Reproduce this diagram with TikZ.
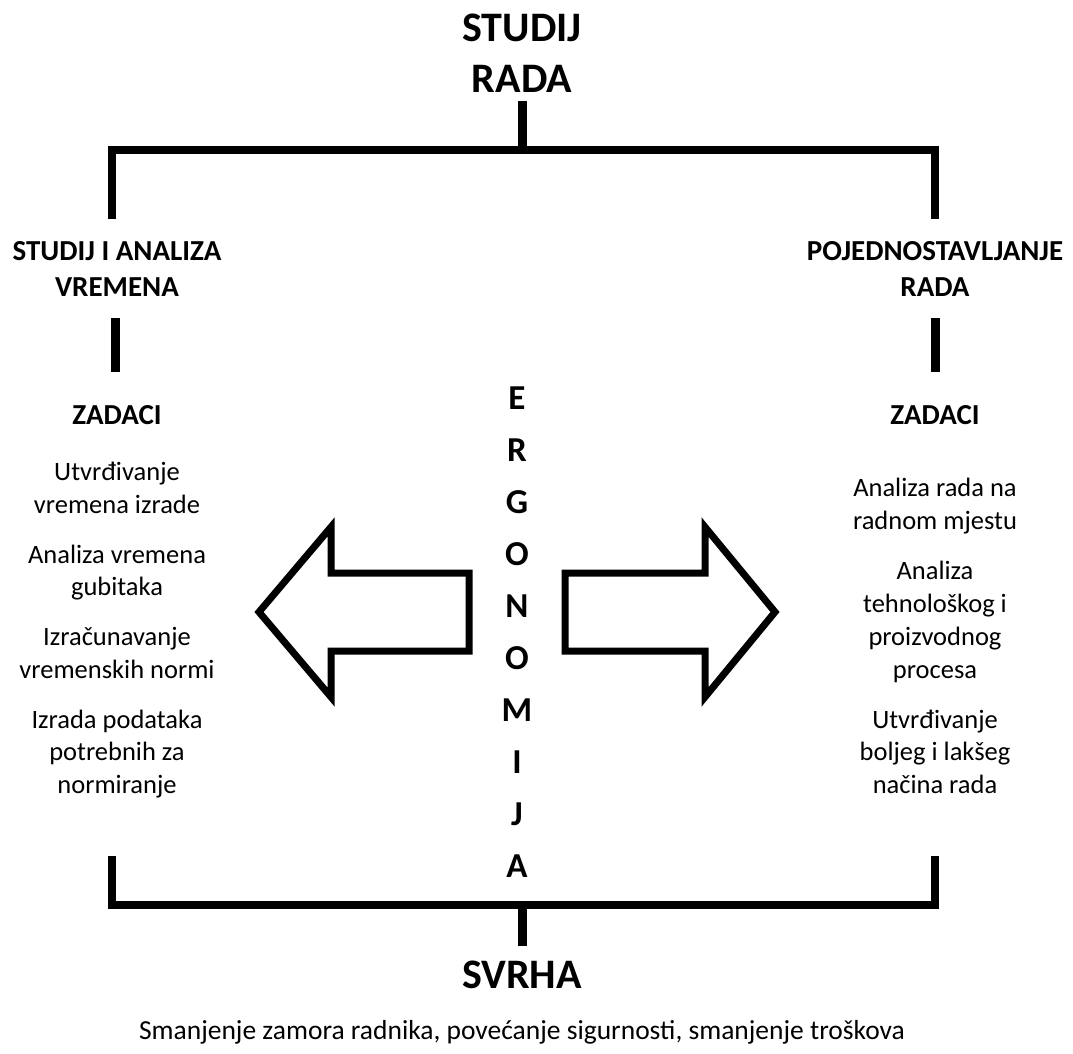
\documentclass[tikz,border=0pt]{standalone}
\usepackage{fontspec}
\setmainfont{Carlito}
\begin{document}
\begin{tikzpicture}[x=1pt,y=-1pt,
  bar/.style={line width=8pt, line join=miter, line cap=rect},
  stem/.style={line width=9pt},
  title/.style={font=\bfseries\fontsize{42}{50}\selectfont, anchor=base, inner sep=0pt},
  head/.style={font=\bfseries\fontsize{29}{35}\selectfont, anchor=base, inner sep=0pt},
  item/.style={font=\fontsize{26.5}{31}\selectfont, anchor=base, inner sep=0pt},
  letter/.style={font=\bfseries\fontsize{35}{42}\selectfont, anchor=base, inner sep=0pt},
  bigarrow/.style={line width=7pt, line join=miter, fill=white}]
\useasboundingbox (0,0) rectangle (1073,1054);

% top title
\node[title] (t1) at (522,42) {STUDIJ};
\node[title] (t2) at (522,93) {RADA};
\coordinate (t2s) at (522,101);
\coordinate (topj) at (522,150);
\coordinate (tl) at (112,215);
\coordinate (tr) at (935,215);
\draw[stem] (t2s) -- (topj);
\draw[bar] (tl) -- (112,150) -- (935,150) -- (tr);

% branch headings
\node[head] (lh1) at (117,260) {STUDIJ I ANALIZA};
\node[head] (lh2) at (117,296) {VREMENA};
\node[head] (rh1) at (935,260) {POJEDNOSTAVLJANJE};
\node[head] (rh2) at (935,296) {RADA};

\coordinate (ls1) at (115,318);
\coordinate (ls2) at (115,372);
\coordinate (rs1) at (935,318);
\coordinate (rs2) at (935,372);
\draw[stem] (ls1) -- (ls2);
\draw[stem] (rs1) -- (rs2);

\node[head] (lz) at (117,424) {ZADACI};
\node[head] (rz) at (935,424) {ZADACI};

% left tasks
\node[item] (la1) at (117,480) {Utvrđivanje};
\node[item] (la2) at (117,513) {vremena izrade};
\node[item] (lb1) at (117,563) {Analiza vremena};
\node[item] (lb2) at (117,595) {gubitaka};
\node[item] (lc1) at (117,645) {Izračunavanje};
\node[item] (lc2) at (117,678) {vremenskih normi};
\node[item] (ld1) at (117,728) {Izrada podataka};
\node[item] (ld2) at (117,760) {potrebnih za};
\node[item] (ld3) at (117,793) {normiranje};

% right tasks
\node[item] (ra1) at (935,496) {Analiza rada na};
\node[item] (ra2) at (935,529) {radnom mjestu};
\node[item] (rb1) at (935,579) {Analiza};
\node[item] (rb2) at (935,612) {tehnološkog i};
\node[item] (rb3) at (935,645) {proizvodnog};
\node[item] (rb4) at (935,678) {procesa};
\node[item] (rc1) at (935,728) {Utvrđivanje};
\node[item] (rc2) at (935,760) {boljeg i lakšeg};
\node[item] (rc3) at (935,793) {načina rada};

% ERGONOMIJA
\foreach \ch [count=\i] in {E,R,G,O,N,O,M,I,J,A} {
  \node[letter] (erg\i) at (517,{409+52*(\i-1)}) {\ch};
}

% arrows
\draw[bigarrow] (259,612) -- (331,527) -- (331,573) -- (469,573) -- (469,651) -- (331,651) -- (331,697) -- cycle;
\draw[bigarrow] (775,612) -- (705,527) -- (705,573) -- (565,573) -- (565,651) -- (705,651) -- (705,697) -- cycle;

% bottom bracket
\coordinate (bl) at (112,860);
\coordinate (br) at (935,860);
\coordinate (botj) at (522,905);
\coordinate (svtop) at (522,946);
\draw[bar] (bl) -- (112,905) -- (935,905) -- (br);
\draw[stem] (botj) -- (svtop);
\node[title] (sv) at (522,988) {SVRHA};
\node[item, font=\fontsize{27.5}{32}\selectfont] (goal) at (522,1039) {Smanjenje zamora radnika, povećanje sigurnosti, smanjenje troškova};
\end{tikzpicture}
\end{document}
